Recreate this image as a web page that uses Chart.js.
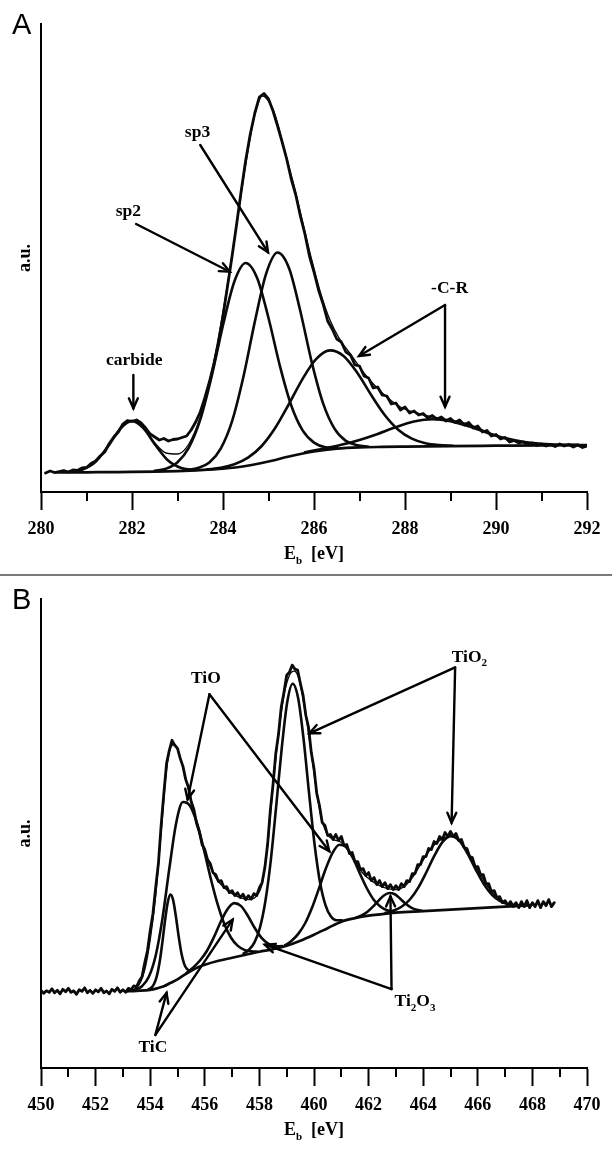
<!DOCTYPE html>
<html>
<head>
<meta charset="utf-8">
<script src="https://cdn.jsdelivr.net/npm/chart.js@4.4.1/dist/chart.umd.min.js"></script>
<style>
  html, body { margin: 0; padding: 0; background: #fff; }
  body { width: 612px; height: 1149px; position: relative; overflow: hidden; }
  canvas { position: absolute; left: 0; }
  #cA { top: 0; }
  #sep { position: absolute; left: 0; top: 574px; width: 612px; height: 2px; background: #7a7a7a; }
  #cB { top: 576px; }
</style>
</head>
<body>
<canvas id="cA" width="612" height="574"></canvas>
<div id="sep"></div>
<canvas id="cB" width="612" height="573"></canvas>
<script>
// ---- panel A : C 1s ----
var ticksA = [280, 292];
// measured spectrum, one value every 0.1 eV from 280.1 eV
var startA = 280.1, stepA = 0.1;
var spectrumA = [
  19, 21, 19.5, 20.5, 21.5, 20, 22, 21.5, 24, 24.5,
  28.5, 31, 36, 40, 48.5, 55, 60, 68, 71.5, 70.5,
  72, 69, 64, 58, 55, 52, 53.5, 51, 52.5, 53,
  54.5, 56, 62, 70, 80, 94, 110, 128, 149, 176,
  206, 236, 268, 301, 332, 358, 379, 395, 398.5, 393,
  381, 366, 350, 333, 313, 297, 276, 258, 236, 220,
  202, 188, 171, 163, 153, 150, 140, 137, 127, 126,
  116, 114, 104, 105, 97, 96, 88, 89, 82, 85,
  79, 81, 77, 78.5, 74, 76.5, 73, 75, 71, 73.5,
  69.5, 72, 67, 69.5, 64, 66, 60, 61.5, 56, 57.5,
  53, 54.5, 50, 51.5, 49, 50, 47.5, 49, 46.5, 48,
  46, 47.5, 45.5, 48, 46, 47.5, 45, 47, 44.5, 46
];
var envelopeA = [[280.3,19.6],[280.6,20],[280.9,22.5],[281.2,30.5],[281.5,47.5],[281.75,64],[282.0,71.3],[282.25,64.5],[282.5,49],[282.75,39],[283.0,38],[283.25,48],[283.5,75],[283.75,120],[284.0,180],[284.25,252],[284.5,328],[284.7,378],[284.87,396],[285.0,391],[285.15,376],[285.35,342],[285.55,308],[285.75,270],[285.95,232],[286.15,198],[286.35,172],[286.55,154],[286.8,138],[287.15,116],[287.5,99],[287.9,85],[288.25,79],[288.6,75],[289.0,72],[289.35,68.5],[289.7,62],[290.05,55.5],[290.45,50.5],[290.8,48.5],[291.5,47],[292.0,46.8]];
var backgroundA = [[280.3,19.5],[280.5,19.5],[281,19.7],[281.5,19.9],[282,20.1],[282.5,20.4],[283,20.9],[283.5,21.8],[284,23.3],[284.5,26],[285,30.5],[285.5,36],[286,40.5],[286.5,43.3],[287,44.6],[287.5,45.1],[288,45.4],[289,45.9],[290,46.3],[291,46.7],[292,47]];
var carbideA = [[280.6,20.0],[280.9,22.3],[281.2,30.3],[281.5,47.4],[281.75,63.7],[282.0,71.1],[282.25,63.9],[282.5,47.9],[282.8,31.2],[283.1,23.7],[283.4,21.9]];
var sp2A = [[282.5,21.2],[282.75,23.4],[283.0,29.8],[283.25,44.4],[283.5,72.3],[283.75,115.5],[284.0,166.8],[284.25,210.5],[284.5,229],[284.75,214],[285.0,174],[285.25,126.2],[285.5,86.5],[285.75,61.6],[286.0,49.4],[286.25,44.8],[286.5,44.1]];
var sp3A = [[283.2,21.7],[283.45,24],[283.7,29.5],[283.95,43.4],[284.2,70.9],[284.45,115.5],[284.7,170.4],[284.95,218.6],[285.2,239.5],[285.45,224],[285.7,180.8],[285.95,129.9],[286.2,88.6],[286.45,63.4],[286.7,51.1],[286.95,46.8],[287.2,45.3]];
var cr1A = [[283.65,22.5],[283.95,24.2],[284.25,27.7],[284.55,34.3],[284.85,46],[285.15,64.2],[285.45,88],[285.75,113.2],[286.05,133.1],[286.35,141.6],[286.65,136],[286.95,119.2],[287.25,97.5],[287.55,77.3],[287.85,62.3],[288.15,53.4],[288.45,48.8],[288.75,46.9],[289.05,46.2]];
var cr2A = [[285.8,39.7],[286.2,43.3],[286.6,47.2],[287.0,52.1],[287.4,58.1],[287.8,64.9],[288.2,70.4],[288.6,72.7],[289.0,70.8],[289.4,65.7],[289.8,59.3],[290.2,53.9],[290.6,50.1],[291.0,48.2],[291.4,47.3],[291.8,47.1]];

// ---- panel B : Ti 2p ----
var ticksB = [450, 470];
var startB = 450.0, stepB = 0.1;
var spectrumB = [
  77.5, 74.5, 77, 75.5, 79, 75, 77.5, 74, 78.5, 76,
  79.5, 75.5, 77, 73.5, 78, 76.5, 80, 75, 77.5, 74.5,
  78, 76, 79.5, 75, 77, 74, 78.5, 76.5, 80, 75.5,
  78, 75.5, 79.5, 78, 82, 81, 87, 91, 105, 117,
  137, 154, 180, 204, 242, 274, 304, 317, 327, 322,
  319, 309, 301, 288, 280, 266, 258, 244, 236, 223,
  218, 208, 204, 195, 193, 186, 187, 180, 181, 175,
  177, 172, 175, 170, 173.5, 168, 172, 168.5, 174, 172,
  180, 185, 200, 223, 257, 283, 314, 333, 360, 375,
  392, 395, 402, 398, 397, 384, 372, 352, 340, 315,
  299, 274, 262, 245, 242, 232, 233, 228, 233, 227,
  231, 222, 223, 214, 215, 206, 206, 198, 199, 192,
  195, 187, 190, 183, 187, 181, 185, 179, 183, 178,
  182, 178, 184, 181, 187, 186, 194, 194, 203, 203,
  211, 211, 219, 218, 226, 224, 231, 228, 235, 231,
  236, 231, 234, 227, 228, 220, 219, 211, 210, 201,
  201, 193, 193, 184, 184, 176, 177, 170, 171, 165,
  167, 162, 166, 161, 165, 160, 166, 161, 167, 160,
  165, 161, 167, 160, 166, 162, 168, 161, 165
];
var envelopeB = [[453.1,76.8],[453.5,80],[453.8,98],[454.0,128],[454.2,172],[454.4,235],[454.6,298],[454.75,320],[454.88,323],[455.0,318],[455.2,300],[455.5,267],[455.8,234],[456.1,208],[456.4,190],[456.7,180],[457.0,174],[457.3,170],[457.6,168],[457.9,172],[458.1,184],[458.3,222],[458.5,282],[458.7,333],[458.9,372],[459.1,392],[459.28,396],[459.45,388],[459.65,360],[459.85,325],[460.05,285],[460.25,252],[460.45,235],[460.7,228],[460.95,226],[461.2,219],[461.5,206],[461.8,194],[462.1,187],[462.4,182],[462.7,179],[463.0,178],[463.3,181],[463.6,190],[463.9,203],[464.2,216],[464.5,225],[464.8,230],[465.0,231.5],[465.2,230],[465.5,221],[465.8,207],[466.1,193],[466.4,180],[466.7,170],[467.0,165],[467.4,162.5],[467.8,162]];
var backgroundB = [[453.1,76.5],[453.5,77],[454,78],[454.25,79.5],[454.5,81.5],[454.75,85],[455,88.5],[455.25,93],[455.5,97],[455.75,100.5],[456,103],[456.5,107],[457,110],[457.5,113],[458,116],[458.5,118.5],[459,122],[459.5,127],[460,133],[460.5,139.5],[461,146],[461.5,149.5],[462,152],[462.5,153.5],[463,155],[464,156.5],[465,158],[466,159.5],[467,161],[467.8,162]];
var ticB = [[453.94,78.5],[454.04,80.1],[454.14,83.8],[454.24,91.4],[454.34,104.7],[454.44,124.1],[454.54,146.4],[454.64,165],[454.74,173],[454.84,167.5],[454.94,151.4],[455.04,131.8],[455.14,115],[455.24,104.2],[455.34,99],[455.44,97.6],[455.54,98]];
var tioB1 = [[453.45,77.9],[453.7,81.6],[453.95,91],[454.2,112],[454.45,149.3],[454.7,198.9],[454.95,244.3],[455.2,265.4],[455.45,261.9],[455.7,245.5],[455.95,219.8],[456.2,191.1],[456.45,165.2],[456.7,144.7],[456.95,130.5],[457.2,122.1],[457.45,117.9],[457.7,116.4],[457.95,116]];
var ti2o3B1 = [[455.33,94.8],[455.58,100.4],[455.83,107.5],[456.08,117],[456.33,130.3],[456.58,145.7],[456.83,158.5],[457.08,164.5],[457.33,161.5],[457.58,151.7],[457.83,139.7],[458.08,129.8],[458.33,123.9],[458.58,121.4],[458.83,121.6]];
var tio2B1 = [[457.42,114.2],[457.62,118],[457.82,125.4],[458.02,140.1],[458.22,166.7],[458.42,208],[458.62,262.5],[458.82,319.6],[459.02,365.3],[459.22,383.5],[459.42,368.9],[459.62,327.8],[459.82,274],[460.02,223.3],[460.22,185.4],[460.42,162.5],[460.62,151.1],[460.82,147.4],[461.02,147.3]];
var tioB2 = [[458.93,122.3],[459.18,126.9],[459.43,134.1],[459.68,144.7],[459.93,160.1],[460.18,179],[460.43,198.8],[460.68,214.7],[460.93,222.7],[461.18,220.4],[461.43,209.3],[461.68,194.1],[461.93,179.6],[462.18,168.2],[462.43,161.1],[462.68,157.4],[462.93,156.1]];
var ti2o3B2 = [[461.56,150.4],[461.76,152.5],[461.96,156],[462.16,161],[462.36,166.8],[462.56,172.2],[462.76,174.7],[462.96,173.4],[463.16,168.9],[463.36,163.9],[463.56,160],[463.76,157.8],[463.96,157]];
var tio2B2 = [[462.62,154.8],[462.92,157.1],[463.22,161.2],[463.52,168.4],[463.82,180],[464.12,195.6],[464.42,212.4],[464.72,225.9],[465.02,231.3],[465.32,226.8],[465.62,214.2],[465.92,198.3],[466.22,183.6],[466.52,172.9],[466.82,166.6],[467.12,163.5],[467.42,162.4]];

// ---- annotations (data units) ----
var labelsA = [
  { parts: [['carbide']], x: 282.05, y: 132.7 },
  { parts: [['sp2']], x: 281.92, y: 281.3 },
  { parts: [['sp3']], x: 283.44, y: 360.3 },
  { parts: [['-C-R']], x: 288.98, y: 205 }
];
var arrowsA = [
  [282.03, 117, 282.03, 83.7],
  [282.09, 268, 284.15, 220.3],
  [283.5, 347, 284.99, 239.7],
  [288.88, 187, 286.99, 136],
  [288.88, 187, 288.88, 85.3]
];
var labelsB = [
  { parts: [['TiO']], x: 456.04, y: 389.7 },
  { parts: [['TiO'], ['2', 1]], x: 465.69, y: 411.3 },
  { parts: [['Ti'], ['2', 1], ['O'], ['3', 1]], x: 463.7, y: 68 },
  { parts: [['TiC']], x: 454.1, y: 22 }
];
var arrowsB = [
  [456.17, 373, 455.37, 268],
  [456.17, 373, 460.56, 216.3],
  [465.17, 399.7, 459.83, 334],
  [465.17, 399.7, 465.04, 244.7],
  [462.84, 78.7, 462.8, 171.3],
  [462.84, 78.7, 458.2, 123],
  [454.19, 33, 454.6, 75],
  [454.19, 33, 457.02, 148]
];

var SERIF = '"Liberation Serif", "Times New Roman", serif';

function pts(arr) { return arr.map(function (p) { return { x: p[0], y: p[1] }; }); }
function onGrid(start, step, vals) {
  return vals.map(function (v, i) { return { x: +(start + i * step).toFixed(2), y: v }; });
}
function line(data, width, smooth) {
  return {
    data: data, borderColor: '#0a0a0a', borderWidth: width, pointRadius: 0, fill: false,
    tension: 0, cubicInterpolationMode: smooth ? 'monotone' : 'default',
    borderJoinStyle: 'round', borderCapStyle: 'round'
  };
}

function rich(ctx, parts, cx, cy, size) {
  var big = 'bold ' + size + 'px ' + SERIF;
  var small = 'bold ' + Math.round(size * 0.62) + 'px ' + SERIF;
  var w = 0;
  parts.forEach(function (p) { ctx.font = p[1] ? small : big; w += ctx.measureText(p[0]).width; });
  var xx = cx - w / 2, base = cy + size * 0.33;
  ctx.textAlign = 'left'; ctx.textBaseline = 'alphabetic';
  parts.forEach(function (p) {
    ctx.font = p[1] ? small : big;
    ctx.fillText(p[0], xx, base + (p[1] ? size * 0.28 : 0));
    xx += ctx.measureText(p[0]).width;
  });
}

function arrow(ctx, x1, y1, x2, y2) {
  ctx.beginPath(); ctx.moveTo(x1, y1); ctx.lineTo(x2, y2); ctx.stroke();
  var a = Math.atan2(y2 - y1, x2 - x1), L = 11, w = 0.42;
  ctx.beginPath();
  ctx.moveTo(x2 - L * Math.cos(a - w), y2 - L * Math.sin(a - w));
  ctx.lineTo(x2, y2);
  ctx.lineTo(x2 - L * Math.cos(a + w), y2 - L * Math.sin(a + w));
  ctx.stroke();
}

var decor = {
  id: 'decor',
  afterDraw: function (chart, args, o) {
    var ctx = chart.ctx, ca = chart.chartArea, xs = chart.scales.x, ys = chart.scales.y;
    ctx.save();
    ctx.strokeStyle = '#000'; ctx.fillStyle = '#000';
    // short ticks on odd values
    ctx.lineWidth = 2;
    for (var v = o.min + 1; v < o.max; v += 2) {
      var px = Math.round(xs.getPixelForValue(v));
      ctx.beginPath(); ctx.moveTo(px, ca.bottom); ctx.lineTo(px, ca.bottom + 9); ctx.stroke();
    }
    // x title with subscript
    rich(ctx, [['E'], ['b', 1], ['  [eV]']], (ca.left + ca.right) / 2, ca.bottom + 61, 18);
    // panel letter
    ctx.font = '29px "Liberation Sans", Arial, sans-serif';
    ctx.textAlign = 'left'; ctx.textBaseline = 'alphabetic';
    ctx.fillText(o.letter, 12, o.letterBase);
    // arrows and labels
    ctx.lineWidth = 2.4; ctx.lineCap = 'round'; ctx.lineJoin = 'miter';
    o.arrows.forEach(function (a) {
      arrow(ctx, xs.getPixelForValue(a[0]), ys.getPixelForValue(a[1]), xs.getPixelForValue(a[2]), ys.getPixelForValue(a[3]));
    });
    o.labels.forEach(function (l) {
      rich(ctx, l.parts, xs.getPixelForValue(l.x), ys.getPixelForValue(l.y), 17.5);
    });
    ctx.restore();
  }
};

function makeChart(id, range, padTop, axisH, datasets, extra) {
  return new Chart(document.getElementById(id), {
    type: 'line',
    data: { datasets: datasets },
    plugins: [decor],
    options: {
      responsive: false, animation: false, devicePixelRatio: 1, events: [],
      layout: { padding: { top: padTop, right: 25, left: 0, bottom: 0 } },
      plugins: {
        legend: { display: false }, tooltip: { enabled: false },
        decor: Object.assign({ min: range[0], max: range[1] }, extra)
      },
      scales: {
        x: {
          type: 'linear', min: range[0], max: range[1],
          afterFit: function (s) { s.height = axisH; },
          border: { display: true, color: '#000', width: 2 },
          grid: {
            drawOnChartArea: false, drawTicks: true, tickLength: 18, tickWidth: 2,
            tickColor: function (c) { return (c.tick && Math.round(c.tick.value) % 2 === 0) ? '#000' : 'rgba(0,0,0,0)'; }
          },
          ticks: {
            stepSize: 1, autoSkip: false, maxRotation: 0, padding: 9, color: '#000',
            font: { family: SERIF, size: 18, weight: 'bold' },
            callback: function (v) { return Math.round(v) % 2 === 0 ? String(v) : ''; }
          }
        },
        y: {
          type: 'linear', min: 0, max: 468,
          afterFit: function (s) { s.width = 41; },
          border: { display: true, color: '#000', width: 2 },
          grid: { display: false },
          ticks: { display: false },
          title: {
            display: true, text: 'a.u.', color: '#000',
            font: { family: SERIF, size: 18, weight: 'bold' },
            padding: { top: 15, bottom: 0 }
          }
        }
      }
    }
  });
}

makeChart('cA', ticksA, 24, 82, [
  line(pts(backgroundA), 2.7, true),
  line(pts(carbideA), 2.6, true),
  line(pts(sp2A), 2.6, true),
  line(pts(sp3A), 2.6, true),
  line(pts(cr1A), 2.6, true),
  line(pts(cr2A), 2.6, true),
  line(pts(envelopeA), 1.4, true),
  line(onGrid(startA, stepA, spectrumA), 2.8, false)
], { letter: 'A', letterBase: 34, labels: labelsA, arrows: arrowsA });

makeChart('cB', ticksB, 23, 81, [
  line(pts(backgroundB), 2.7, true),
  line(pts(ticB), 2.6, true),
  line(pts(tioB1), 2.6, true),
  line(pts(ti2o3B1), 2.6, true),
  line(pts(tio2B1), 2.6, true),
  line(pts(tioB2), 2.6, true),
  line(pts(ti2o3B2), 2.6, true),
  line(pts(tio2B2), 2.6, true),
  line(pts(envelopeB), 1.4, true),
  line(onGrid(startB, stepB, spectrumB), 2.8, false)
], { letter: 'B', letterBase: 33, labels: labelsB, arrows: arrowsB });
</script>
</body>
</html>
